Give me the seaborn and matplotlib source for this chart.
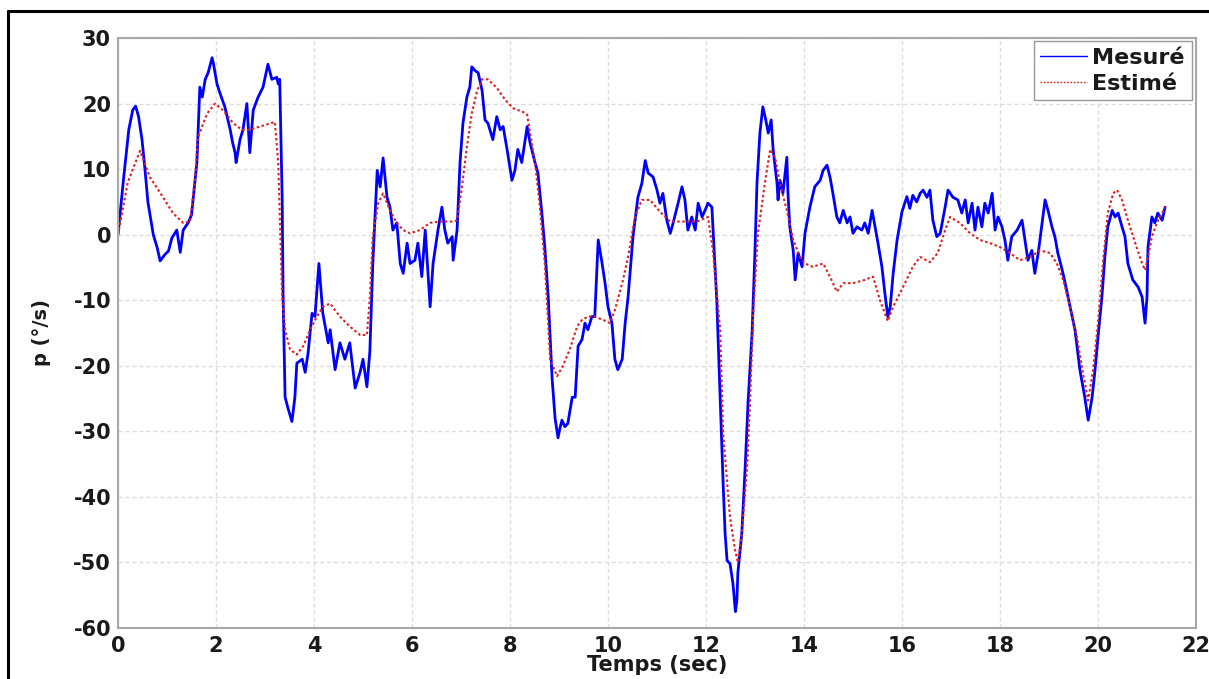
import matplotlib
matplotlib.use("Agg")
import matplotlib.pyplot as plt
from matplotlib.lines import Line2D
import seaborn as sns
import pandas as pd

# Measured roll rate p (deg/s) versus time (s)
t_mes = [0.0, 0.12, 0.22, 0.3, 0.36, 0.42, 0.49, 0.55, 0.61, 0.72, 0.8, 0.86, 0.96, 1.03,
         1.1, 1.2, 1.27, 1.33, 1.43, 1.5, 1.61, 1.67, 1.72, 1.78, 1.84, 1.92, 1.95, 2.02,
         2.08, 2.18, 2.29, 2.34, 2.39, 2.41, 2.49, 2.55, 2.63, 2.69, 2.76, 2.86, 2.96, 3.06,
         3.14, 3.24, 3.27, 3.3, 3.35, 3.37, 3.41, 3.47, 3.55, 3.61, 3.65, 3.76, 3.82, 3.88,
         3.96, 4.02, 4.1, 4.18, 4.29, 4.33, 4.43, 4.53, 4.63, 4.73, 4.84, 4.94, 5.0, 5.08,
         5.14, 5.2, 5.29, 5.35, 5.41, 5.49, 5.55, 5.61, 5.69, 5.76, 5.82, 5.9, 5.96, 6.06,
         6.12, 6.2, 6.27, 6.37, 6.43, 6.53, 6.61, 6.67, 6.73, 6.82, 6.84, 6.92, 6.98, 7.04,
         7.12, 7.18, 7.22, 7.29, 7.35, 7.43, 7.49, 7.55, 7.65, 7.73, 7.8, 7.86, 7.94, 8.04,
         8.1, 8.16, 8.24, 8.35, 8.41, 8.51, 8.57, 8.65, 8.71, 8.78, 8.86, 8.92, 8.98, 9.02,
         9.06, 9.12, 9.18, 9.27, 9.33, 9.39, 9.47, 9.53, 9.59, 9.67, 9.73, 9.8, 9.88, 9.94,
         10.0, 10.08, 10.14, 10.2, 10.29, 10.35, 10.41, 10.51, 10.61, 10.69, 10.76, 10.82,
         10.92, 11.0, 11.06, 11.12, 11.2, 11.27, 11.33, 11.43, 11.51, 11.57, 11.63, 11.71,
         11.78, 11.84, 11.92, 11.98, 12.04, 12.12, 12.18, 12.22, 12.29, 12.35, 12.39, 12.43,
         12.49, 12.55, 12.6, 12.63, 12.65, 12.73, 12.8, 12.86, 12.94, 13.0, 13.04, 13.1,
         13.16, 13.22, 13.27, 13.33, 13.37, 13.45, 13.47, 13.51, 13.57, 13.65, 13.67, 13.71,
         13.78, 13.82, 13.88, 13.96, 14.02, 14.12, 14.22, 14.33, 14.39, 14.47, 14.53, 14.59,
         14.67, 14.73, 14.8, 14.88, 14.94, 15.0, 15.08, 15.18, 15.24, 15.31, 15.39, 15.45,
         15.51, 15.59, 15.65, 15.71, 15.76, 15.82, 15.9, 16.0, 16.1, 16.16, 16.22, 16.3,
         16.37, 16.43, 16.51, 16.57, 16.63, 16.71, 16.78, 16.88, 16.94, 17.04, 17.14, 17.22,
         17.29, 17.35, 17.43, 17.49, 17.55, 17.63, 17.69, 17.76, 17.84, 17.9, 17.96, 18.04,
         18.1, 18.16, 18.24, 18.35, 18.45, 18.51, 18.57, 18.65, 18.71, 18.78, 18.86, 18.92,
         18.98, 19.06, 19.12, 19.18, 19.27, 19.33, 19.43, 19.53, 19.63, 19.73, 19.8, 19.88,
         19.94, 20.0, 20.08, 20.14, 20.2, 20.29, 20.35, 20.41, 20.49, 20.55, 20.61, 20.71,
         20.82, 20.9, 20.96, 21.0, 21.02, 21.1, 21.16, 21.22, 21.31, 21.37]
p_mes = [0.0, 9.0, 16.0, 19.0, 19.6, 18.0, 14.5, 10.0, 5.0, 0.0, -2.0, -4.0, -3.0, -2.5,
         -0.5, 0.7, -2.7, 0.7, 1.8, 3.0, 11.0, 22.5, 21.0, 23.7, 24.7, 27.0, 26.0, 23.0,
         21.6, 19.5, 16.0, 14.0, 12.5, 11.0, 14.5, 16.0, 20.0, 12.5, 19.0, 21.0, 22.5, 26.0,
         23.7, 24.0, 23.0, 23.7, 5.7, -9.6, -24.8, -26.5, -28.5, -24.8, -19.6, -19.0, -21.0, -18.0,
         -12.0, -12.5, -4.4, -12.0, -16.5, -14.5, -20.6, -16.5, -19.0, -16.5, -23.4, -21.0, -19.0, -23.2,
         -17.8, -4.4, 9.8, 7.3, 11.7, 5.7, 4.2, 0.7, 1.8, -4.4, -5.9, -1.3, -4.4, -3.9,
         -1.3, -6.4, 0.7, -11.0, -4.4, 0.7, 4.2, 0.7, -1.3, -0.3, -3.9, 0.7, 11.0, 17.0,
         21.0, 22.5, 25.6, 25.0, 24.7, 22.0, 17.5, 17.0, 14.5, 18.0, 16.0, 16.5, 13.0, 8.3,
         9.8, 13.0, 11.0, 16.5, 14.0, 11.0, 9.4, 3.3, -1.9, -9.5, -22.0, -28.0, -31.0, -29.5,
         -28.3, -29.3, -28.8, -24.8, -24.8, -17.0, -16.0, -13.5, -14.5, -12.5, -12.5, -0.8, -4.4, -7.4,
         -11.0, -13.5, -19.0, -20.6, -19.0, -13.5, -9.5, -0.3, 5.7, 7.8, 11.3, 9.4,
         8.8, 6.8, 4.8, 6.3, 2.2, 0.2, 1.8, 4.8, 7.3, 5.3, 0.7, 2.7,
         0.7, 4.8, 2.7, 3.7, 4.8, 4.2, -4.4, -10.0, -25.0, -38.0, -45.6, -49.7,
         -50.2, -53.2, -57.5, -55.8, -51.6, -45.6, -35.4, -25.3, -15.0, -2.4, 7.8, 15.5,
         19.5, 17.5, 15.5, 17.5, 13.0, 7.8, 5.3, 8.3, 6.3, 11.8, 6.8, 1.2,
         -2.4, -6.9, -2.8, -4.9, 0.2, 4.2, 7.3, 8.3, 9.8, 10.6, 8.8, 6.3,
         2.7, 1.8, 3.7, 1.8, 2.7, 0.2, 1.2, 0.7, 1.8, 0.2, 3.7, 1.2,
         -1.3, -4.9, -8.9, -12.5, -11.0, -5.9, -0.8, 3.5, 5.8, 4.0, 6.0, 5.0,
         6.3, 6.8, 5.7, 6.8, 2.2, -0.3, 0.2, 4.2, 6.8, 5.7, 5.3, 3.3,
         5.3, 1.8, 4.8, 0.7, 4.2, 1.2, 4.8, 3.3, 6.3, 0.7, 2.7, 1.2,
         -0.8, -3.9, -0.3, 0.7, 2.2, -0.8, -3.9, -2.4, -5.9, -2.8, 1.8, 5.3,
         3.7, 1.2, -0.3, -2.8, -5.4, -7.4, -11.0, -14.5, -20.6, -24.8, -28.3, -24.8,
         -20.6, -15.6, -9.5, -3.4, 1.2, 3.7, 2.7, 3.3, 1.2, -0.3, -4.4, -6.9,
         -8.0, -9.5, -13.5, -9.5, -1.9, 2.7, 1.8, 3.3, 2.2, 4.2]

# Estimated roll rate p (deg/s) versus time (s)
t_est = [0.0, 0.2, 0.45, 0.65, 0.92, 1.12, 1.33, 1.47, 1.57, 1.63, 1.82, 1.98, 2.14, 2.35,
         2.53, 2.69, 2.9, 3.2, 3.27, 3.31, 3.35, 3.41, 3.51, 3.65, 3.78, 3.92, 4.06, 4.18,
         4.33, 4.53, 4.73, 4.94, 5.08, 5.14, 5.2, 5.31, 5.41, 5.55, 5.69, 5.82, 5.96, 6.16,
         6.37, 6.57, 6.84, 6.92, 7.02, 7.12, 7.22, 7.33, 7.43, 7.55, 7.73, 7.9, 8.06, 8.27,
         8.35, 8.41, 8.51, 8.61, 8.71, 8.82, 8.96, 9.08, 9.22, 9.37, 9.47, 9.59, 9.73, 9.9,
         10.04, 10.14, 10.29, 10.41, 10.55, 10.69, 10.86, 11.06, 11.27, 11.53, 11.82, 12.04,
         12.14, 12.29, 12.35, 12.49, 12.59, 12.65, 12.73, 12.84, 12.9, 12.96, 13.06, 13.2,
         13.31, 13.41, 13.51, 13.65, 13.78, 13.92, 14.02, 14.18, 14.39, 14.53, 14.67, 14.8,
         15.0, 15.24, 15.41, 15.55, 15.71, 15.82, 16.02, 16.22, 16.37, 16.57, 16.73, 16.88,
         16.98, 17.18, 17.39, 17.59, 17.8, 18.0, 18.2, 18.41, 18.61, 18.82, 19.02, 19.16,
         19.29, 19.43, 19.57, 19.69, 19.8, 19.9, 20.0, 20.1, 20.2, 20.31, 20.39, 20.49,
         20.61, 20.76, 20.9, 20.96, 21.02, 21.1, 21.2, 21.31, 21.37]
p_est = [0.0, 8.0, 12.8, 8.8, 5.7, 3.3, 1.8, 2.0, 8.3, 14.8, 18.5, 20.0, 19.0, 17.0,
         16.0, 16.0, 16.5, 17.2, 11.0, 0.7, -9.5, -14.5, -17.5, -18.3, -17.0, -14.5, -12.5, -11.0,
         -10.5, -12.5, -14.0, -15.3, -15.3, -9.5, -0.3, 4.8, 6.3, 3.7, 1.8, 0.7, 0.2, 0.7,
         1.8, 2.0, 2.0, 2.2, 7.3, 13.4, 18.5, 22.0, 23.7, 23.7, 22.4, 20.6, 19.3, 18.7,
         18.3, 15.5, 11.0, 4.2, -4.4, -19.0, -21.6, -20.0, -17.5, -14.0, -13.0, -12.5, -12.5, -13.0,
         -13.5, -11.5, -7.4, -3.4, 2.7, 5.3, 5.3, 3.5, 2.0, 2.0, 2.0, 2.7,
         -2.4, -14.5, -30.3, -43.1, -48.0, -50.0, -45.6, -35.4, -25.3, -12.5, 0.2, 7.8,
         13.0, 11.8, 7.8, 3.7, -0.8, -3.4, -4.4, -4.9, -4.4, -6.4, -8.7, -7.4,
         -7.4, -6.9, -6.4, -10.0, -13.2, -11.0, -8.0, -4.9, -3.4, -4.2, -2.8, 0.7,
         2.7, 1.8, 0.2, -0.8, -1.3, -1.9, -2.8, -3.9, -3.4, -2.4, -2.8, -4.4,
         -6.9, -11.0, -15.6, -21.0, -25.3, -20.6, -13.5, -4.4, 3.3, 6.3, 6.8, 5.3,
         2.2, -1.3, -4.4, -5.4, -3.4, -0.3, 1.8, 3.3, 4.2]

x_ticks = list(range(0, 23, 2))
y_ticks = list(range(-60, 31, 10))
series_names = ["Mesuré", "Estimé"]

df_mes = pd.DataFrame({"t": t_mes, "p": p_mes})
df_est = pd.DataFrame({"t": t_est, "p": p_est})

sns.set_style("white")
plt.rcParams["font.family"] = ["DejaVu Sans"]

fig = plt.figure(figsize=(12.09, 6.79), dpi=100)
ax = fig.add_axes([118 / 1209, 1 - 628 / 679, (1196 - 118) / 1209, (628 - 38) / 679])

sns.lineplot(data=df_mes, x="t", y="p", ax=ax, color="#0000ff", linewidth=2.0,
             label=series_names[0], estimator=None, sort=False)
sns.lineplot(data=df_est, x="t", y="p", ax=ax, color="#e02020", linewidth=1.5,
             label=series_names[1], estimator=None, sort=False)
ax.lines[1].set_linestyle((0, (1.2, 1.2)))

ax.set_xlim(0, 22)
ax.set_ylim(-60, 30)
ax.set_xticks(x_ticks)
ax.set_yticks(y_ticks)
ax.set_xticklabels([str(v) for v in x_ticks])
ax.set_yticklabels([str(v) for v in y_ticks])

ax.grid(True, color="#dcdcdc", linestyle=(0, (3, 2)), linewidth=1.0)
for s in ax.spines.values():
    s.set_visible(True)
    s.set_color("#a8a8a8")
    s.set_linewidth(1.5)
ax.tick_params(axis="both", direction="in", length=5, width=1, color="#888888",
               labelsize=15, labelcolor="#1a1a1a")
ax.tick_params(axis="x", pad=6)
ax.tick_params(axis="y", pad=5)
for lab in ax.get_xticklabels() + ax.get_yticklabels():
    lab.set_fontweight("bold")

ax.set_xlabel("Temps (sec)", fontsize=15, fontweight="bold", color="#1a1a1a", labelpad=-1)
ax.set_ylabel("p (°/s)", fontsize=14, fontweight="bold", color="#1a1a1a", labelpad=16)

leg = ax.legend(loc="upper right", bbox_to_anchor=(0.998, 0.998), borderaxespad=0.1,
                handlelength=2.1, handletextpad=0.25, labelspacing=0.25,
                borderpad=0.3, fancybox=False, framealpha=1.0, edgecolor="#999999",
                prop={"weight": "bold", "size": 16, "family": "DejaVu Sans"})
leg.get_frame().set_linewidth(1.0)
for txt in leg.get_texts():
    txt.set_color("#1a1a1a")
for h in leg.legend_handles:
    h.set_linewidth(1.0)

# outer frame around the figure
fig.add_artist(Line2D([8 / 1209, 8 / 1209], [-0.05, 1 - 11 / 679], transform=fig.transFigure,
                      color="black", linewidth=2.2))
fig.add_artist(Line2D([8 / 1209, 1.05], [1 - 11 / 679, 1 - 11 / 679], transform=fig.transFigure,
                      color="black", linewidth=2.2))

fig.savefig("out.png", dpi=100)
